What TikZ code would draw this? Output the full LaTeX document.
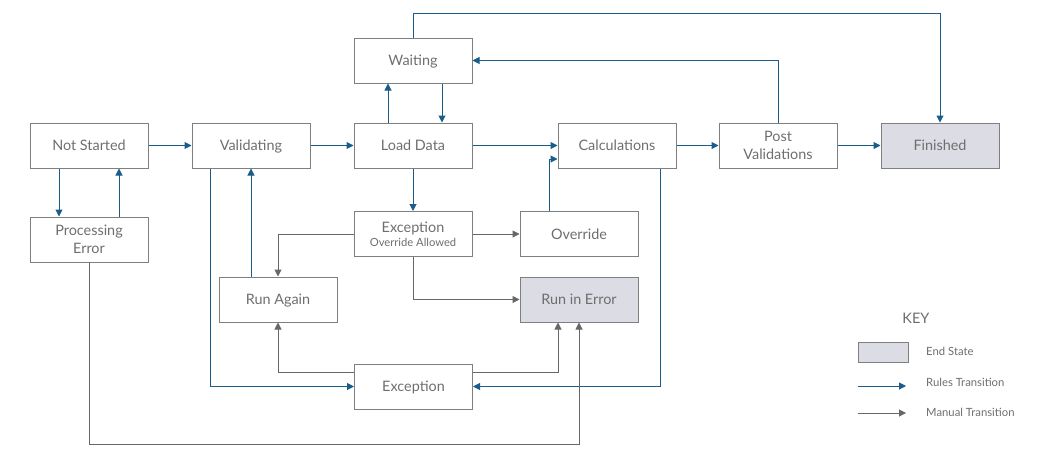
\documentclass[tikz,border=0pt]{standalone}
\usepackage{fontspec}
\setmainfont{Lato}
\usetikzlibrary{arrows.meta}
\definecolor{rulec}{HTML}{1A5C8A}
\definecolor{manc}{HTML}{676767}
\definecolor{boxc}{HTML}{7F7F7F}
\definecolor{txtc}{HTML}{6E6E6E}
\definecolor{endc}{HTML}{DCDCE5}
\tikzset{
  state/.style={draw=boxc, line width=1pt, minimum width=118pt, minimum height=45pt, inner sep=0pt, align=center, text=txtc, font=\fontsize{14.4}{18}\selectfont},
  oneline/.style={text height=13pt, text depth=3pt},
  endstate/.style={state, fill=endc},
  rulearrow/.style={draw=rulec, line width=1pt, -{Triangle[length=7pt,width=7pt]}},
  manarrow/.style={draw=manc, line width=1pt, -{Triangle[length=7pt,width=7pt]}},
  keytxt/.style={text=txtc, anchor=west, inner sep=0pt, font=\fontsize{11.3}{13}\selectfont}
}
\begin{document}
\begin{tikzpicture}[x=1pt,y=-1pt]
\useasboundingbox (0,0) rectangle (1057,463);
\node[state,oneline] (ns) at (89,145.5) {Not Started};
\node[state,oneline] (val) at (251,145.5) {Validating};
\node[state,oneline] (ld) at (413,145.5) {Load Data};
\node[state,oneline] (calc) at (617,145.5) {Calculations};
\node[state] (pv) at (778,145.5) {Post\\Validations};
\node[endstate,oneline] (fin) at (940,145.5) {Finished};
\node[state,oneline] (wait) at (413,60.5) {Waiting};
\node[state] (pe) at (89,239.5) {Processing\\Error};
\node[state] (eoa) at (413,234) {Exception\\[-4pt]{\fontsize{11.2}{13}\selectfont Override Allowed}};
\node[state,oneline] (ov) at (579,234) {Override};
\node[endstate,oneline] (re) at (579,299.5) {Run in Error};
\node[state,oneline] (ra) at (278,299.5) {Run Again};
\node[state,oneline] (exc) at (413.5,386.5) {Exception};
% key
\node[text=txtc, font=\fontsize{14.5}{16}\selectfont, inner sep=0pt] (key) at (916,318) {KEY};
\node[draw=boxc, fill=endc, line width=1pt, minimum width=50pt, minimum height=20pt, inner sep=0pt] (kbox) at (883,352) {};
\node[keytxt] (kend) at (926,351.5) {End State};
\node[keytxt] (krule) at (926,382) {Rules Transition};
\node[keytxt] (kman) at (926,412.5) {Manual Transition};
\coordinate (kr1) at (858,386);
\coordinate (kr2) at (906,386);
\coordinate (km1) at (858,413);
\coordinate (km2) at (906,413);
\draw[rulearrow] (kr1) -- (kr2);
\draw[manarrow] (km1) -- (km2);
% rules transitions
\draw[rulearrow] (ns) -- (val);
\draw[rulearrow] (val) -- (ld);
\draw[rulearrow] (ld) -- (calc);
\draw[rulearrow] (calc) -- (pv);
\draw[rulearrow] (pv) -- (fin);
\draw[rulearrow] ([xshift=-30pt]ns.south) -- ([xshift=-30pt]ns.south |- pe.north);
\draw[rulearrow] ([xshift=30pt]pe.north) -- ([xshift=30pt]pe.north |- ns.south);
\draw[rulearrow] ([xshift=29pt]wait.south) -- ([xshift=29pt]wait.south |- ld.north);
\draw[rulearrow] ([xshift=-25pt]ld.north) -- ([xshift=-25pt]ld.north |- wait.south);
\draw[rulearrow] (wait.north) -- ++(0,-24) -| (fin.north);
\draw[rulearrow] (pv.north) |- (wait.east);
\draw[rulearrow] (ld.south) -- (eoa.north);
\draw[rulearrow] ([xshift=-30pt]ov.north) |- ([yshift=-13.5pt]calc.west);
\draw[rulearrow] ([xshift=-27pt]ra.north) -- ([xshift=-27pt]ra.north |- val.south);
\draw[rulearrow] ([xshift=-41pt]val.south) |- (exc.west);
\draw[rulearrow] ([xshift=43pt]calc.south) |- (exc.east);
% manual transitions
\draw[manarrow] (eoa) -- (ov);
\draw[manarrow] (eoa.west) -| (ra.north);
\draw[manarrow] (eoa.south) |- (re.west);
\draw[manarrow] ([yshift=14.5pt]exc.west) -| (ra.south);
\draw[manarrow] ([yshift=14.5pt]exc.east) -| ([xshift=-21pt]re.south);
\draw[manarrow] (pe.south) -- ++(0,182) -| (re.south);
\end{tikzpicture}
\end{document}
